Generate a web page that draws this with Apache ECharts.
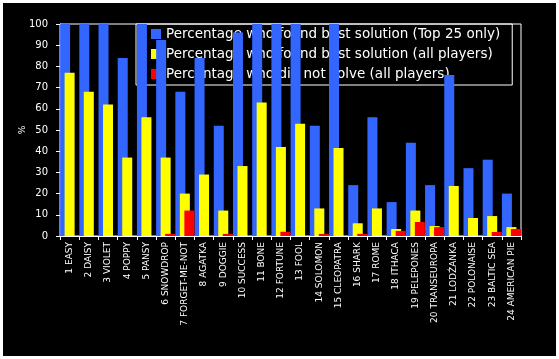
<!DOCTYPE html>
<html>
<head>
<meta charset="utf-8">
<script src="https://cdn.jsdelivr.net/npm/echarts@6/dist/echarts.min.js"></script>
<style>
html,body{margin:0;padding:0;background:#fff;width:559px;height:359px;overflow:hidden;}
#chart{position:absolute;left:3px;top:3px;width:553px;height:353px;}
</style>
</head>
<body>
<div id="chart"></div>
<script>
var categories = ["1 EASY","2 DAISY","3 VIOLET","4 POPPY","5 PANSY","6 SNOWDROP","7 FORGET-ME-NOT","8 AGATKA","9 DOGGIE","10 SUCCESS","11 BONE","12 FORTUNE","13 FOOL","14 SOLOMON","15 CLEOPATRA","16 SHARK","17 ROME","18 ITHACA","19 PELEPONES","20 TRANSEUROPA","21 LODŹANKA","22 POLONAISE","23 BALTIC SEA","24 AMERICAN PIE"];
var seriesNames = ["Percentage who found best solution (Top 25 only)","Percentage who found best solution (all players)","Percentage who did not solve (all players)"];
var top25Best = [100,100,100,84,100,92.5,68,84,52,96,100,100,100,52,100,24,56,16,44,24,76,32,36,20];
var allBest = [77,68,62,37,56,37,20,29,12,33,63,42,53,13,41.5,6,13,3.3,12,4.7,23.6,8.5,9.4,4.2];
var notSolved = [0,0,0,0,0,1,12,0,1,0,0,2,0,1,0,1,0,2.4,6.6,4.2,0,0,1.9,3.3];
var yTicks = {min:0, max:100, interval:10};

var chart = echarts.init(document.getElementById('chart'), null, {renderer:'canvas'});
var colors = ['#3366FF','#FFFF00','#FF0000'];
var dataSets = [top25Best, allBest, notSolved];
var series = dataSets.map(function(d,i){
  return {
    name: seriesNames[i], type:'bar', data:d, barWidth:10, barGap:'-55%',
    itemStyle:{color:colors[i]}, z:2+i, animation:false
  };
});
chart.setOption({
  backgroundColor:'#000',
  animation:false,
  grid:{left:57, top:21, right:35, bottom:120, show:true, borderColor:'#fff', borderWidth:1, backgroundColor:'transparent'},
  legend:{
    orient:'vertical', left:133, top:21, z:1,
    borderColor:'#fff', borderWidth:1, backgroundColor:'transparent',
    padding:[3,12,4,15], itemGap:6, itemWidth:10, itemHeight:10, icon:'rect',
    textStyle:{color:'#fff', fontFamily:'DejaVu Sans', fontSize:13.5},
    data:seriesNames
  },
  xAxis:{
    type:'category', data:categories,
    axisLine:{lineStyle:{color:'#fff', width:1}},
    axisTick:{show:true, length:4, lineStyle:{color:'#fff'}},
    axisLabel:{rotate:90, interval:0, color:'#fff', fontFamily:'DejaVu Sans', fontSize:9, margin:6}
  },
  yAxis:{
    type:'value', min:yTicks.min, max:yTicks.max, interval:yTicks.interval,
    name:'%', nameLocation:'middle', nameGap:33, nameRotate:90, nameMoveOverlap:false,
    nameTextStyle:{color:'#fff', fontFamily:'DejaVu Sans', fontSize:9},
    axisLine:{show:true, lineStyle:{color:'#fff', width:1}},
    axisTick:{show:true, length:4, lineStyle:{color:'#fff'}},
    splitLine:{show:false},
    axisLabel:{color:'#fff', fontFamily:'DejaVu Sans', fontSize:10, margin:12}
  },
  series:series
});
</script>
</body>
</html>
